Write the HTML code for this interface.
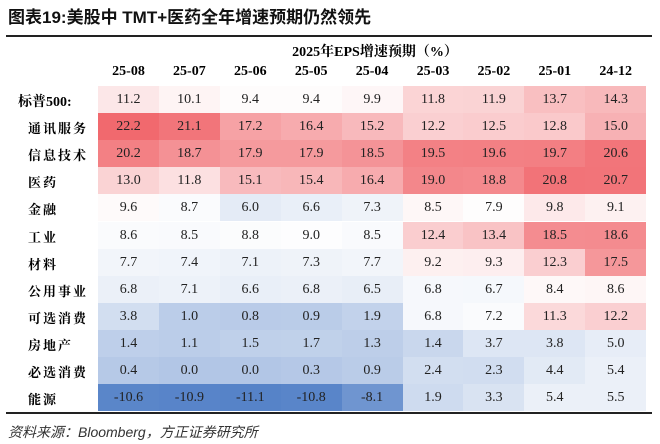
<!DOCTYPE html>
<html><head><meta charset="utf-8"><style>
body{margin:0;width:660px;height:444px;background:#fff;overflow:hidden;font-family:"Liberation Serif","Noto Serif CJK SC",serif;}
#title{position:absolute;left:8px;top:3px;font:bold 17px "Liberation Sans","Noto Sans CJK SC",sans-serif;color:#111;}
.rule{position:absolute;left:6px;width:646px;height:2px;background:#222;}
#sub{position:absolute;left:240px;width:270px;top:41px;text-align:center;font-weight:bold;font-size:14px;}
.hd{position:absolute;top:64px;width:61px;text-align:center;font-weight:bold;font-size:14px;}
.rl{position:absolute;font:bold 13px "Noto Serif CJK SC","Noto Sans CJK SC",serif;letter-spacing:2px;}
.cell{position:absolute;height:27px;line-height:27px;text-align:center;font-size:14px;color:#222;}
#src{position:absolute;left:8px;top:422px;font:italic 14px "Liberation Sans","Noto Sans CJK SC",sans-serif;color:#333;}
</style></head><body>
<div id="title">图表19:美股中 TMT+医药全年增速预期仍然领先</div>
<div class="rule" style="top:35px"></div>
<div id="sub">2025年EPS增速预期（%）</div>
<div id="grid"></div>
<div class="rule" style="top:412px"></div>
<div id="src">资料来源：Bloomberg，方正证券研究所</div>
<script>
const months=["25-08","25-07","25-06","25-05","25-04","25-03","25-02","25-01","24-12"];
const sectors=["标普500:","通讯服务","信息技术","医药","金融","工业","材料","公用事业","可选消费","房地产","必选消费","能源"];
const r0=[11.2,10.1,9.4,9.4,9.9,11.8,11.9,13.7,14.3];
const r1=[22.2,21.1,17.2,16.4,15.2,12.2,12.5,12.8,15.0];
const r2=[20.2,18.7,17.9,17.9,18.5,19.5,19.6,19.7,20.6];
const r3=[13.0,11.8,15.1,15.4,16.4,19.0,18.8,20.8,20.7];
const r4=[9.6,8.7,6.0,6.6,7.3,8.5,7.9,9.8,9.1];
const r5=[8.6,8.5,8.8,9.0,8.5,12.4,13.4,18.5,18.6];
const r6=[7.7,7.4,7.1,7.3,7.7,9.2,9.3,12.3,17.5];
const r7=[6.8,7.1,6.6,6.8,6.5,6.8,6.7,8.4,8.6];
const r8=[3.8,1.0,0.8,0.9,1.9,6.8,7.2,11.3,12.2];
const r9=[1.4,1.1,1.5,1.7,1.3,1.4,3.7,3.8,5.0];
const r10=[0.4,0.0,0.0,0.3,0.9,2.4,2.3,4.4,5.4];
const r11=[-10.6,-10.9,-11.1,-10.8,-8.1,1.9,3.3,5.4,5.5];
const rows=[r0,r1,r2,r3,r4,r5,r6,r7,r8,r9,r10,r11];
const X0=98,CW=60.9,Y0=86,RH=27.1;
const xPos=i=>X0+i*CW, yPos=j=>Y0+j*RH;
function color(v,i){
  const mid=i<5?9.2:7.8, span=i<5?13:14;
  let r,g,b;
  if(v>=mid){const t=Math.min(1,(v-mid)/span);r=255-14*t;g=255-150*t;b=255-145*t;}
  else{const t=Math.min(1,(mid-v)/20.5);r=255-170*t;g=255-125*t;b=255-55*t;}
  return `rgb(${r|0},${g|0},${b|0})`;
}
const grid=document.getElementById('grid');
months.forEach((m,i)=>{
  const d=document.createElement('div');d.className='hd';
  
  
  d.style.left=xPos(i)+'px';d.textContent=m;grid.appendChild(d);
});
sectors.forEach((s,j)=>{
  const l=document.createElement('div');l.className='rl';
  
  
  l.style.left=(j==0?18:28)+'px';l.style.top=(yPos(j)+5)+'px';
  if(j==0){l.style.fontFamily='"Liberation Serif","Noto Serif CJK SC",serif';l.style.letterSpacing='0';l.style.fontSize='14px';}
  l.textContent=s;grid.appendChild(l);
  rows[j].forEach((v,i)=>{
    const c=document.createElement('div');c.className='cell';
    
    
    c.style.left=xPos(i)+'px';c.style.top=yPos(j)+'px';
    c.style.width=Math.ceil(CW)+'px';c.style.background=color(v,i);
    c.textContent=v.toFixed(1);grid.appendChild(c);
  });
});
</script>
</body></html>
